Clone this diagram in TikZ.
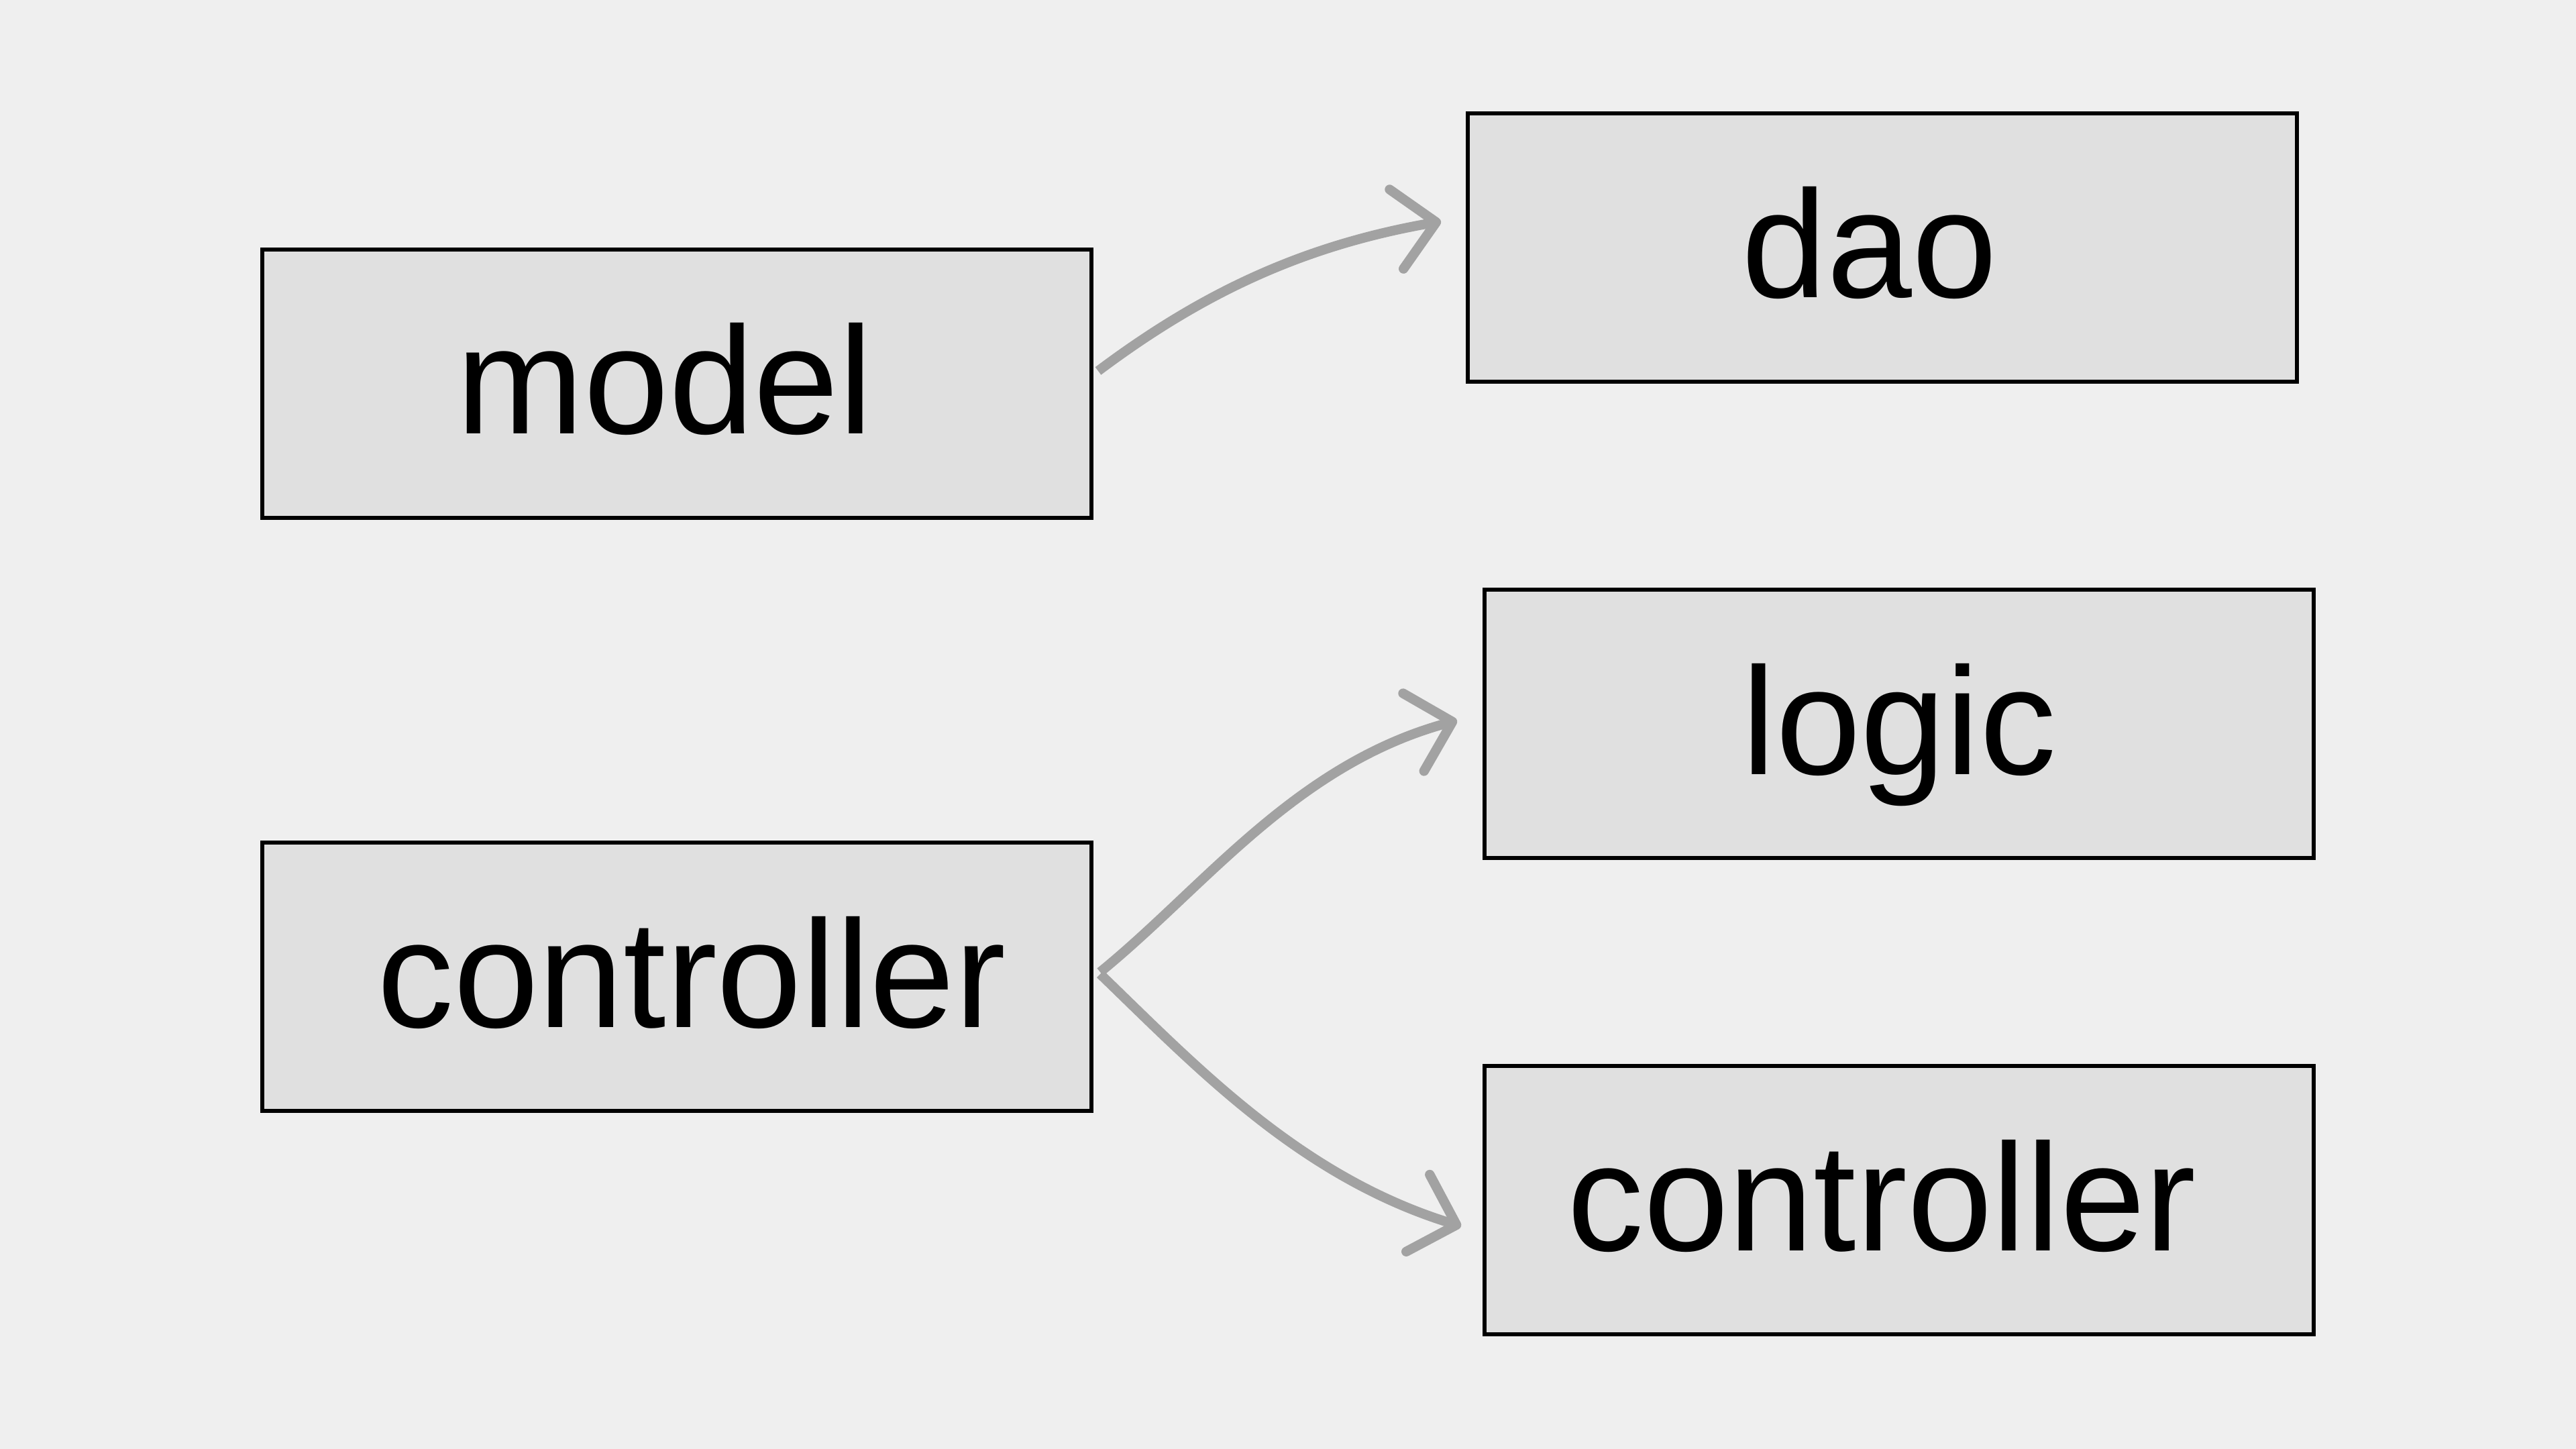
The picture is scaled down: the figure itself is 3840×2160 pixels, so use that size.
\documentclass[tikz,border=0pt]{standalone}
\usepackage{fontspec}
\setmainfont{Liberation Sans}
\usetikzlibrary{arrows.meta,calc}
\definecolor{bgc}{HTML}{EFEFEF}
\definecolor{boxc}{HTML}{E0E0E0}
\definecolor{arrc}{HTML}{A2A2A2}
\tikzset{
  box/.style={draw=black, line width=1.5pt, fill=boxc, rectangle,
    minimum width=309pt, minimum height=100pt, inner sep=0pt,
    text height=45pt, text depth=7.5pt,
    font=\fontsize{57pt}{68pt}\selectfont},
  conn/.style={draw=arrc, line width=3.6pt,
    -{Straight Barb[length=15pt,width=30pt,round]}}
}
\begin{document}
\begin{tikzpicture}[x=0.25pt,y=-0.25pt]
\fill[bgc] (0,0) rectangle (3840,2160);
\useasboundingbox (0,0) rectangle (3840,2160);
\node[box] (model) at (1009,572) {model\kern9pt};
\node[box] (dao) at (2806,369) {dao\kern9.5pt};
\node[box] (logic) at (2831,1079) {logic};
\node[box] (ctrlL) at (1009,1456) {\kern11pt controller};
\node[box] (ctrlR) at (2831,1789) {controller\kern13pt};
\draw[conn] ($(model.east)+(7,-19)$) .. controls +(160,-120) and +(-200,35) .. ($(dao.west)+(-37,-39)$);
\draw[conn] ($(ctrlL.east)+(10,-7)$) .. controls +(155,-126) and +(-241,65) .. ($(logic.west)+(-38,-5)$);
\draw[conn] ($(ctrlL.east)+(10,-4)$) .. controls +(144,139) and +(-239,-73) .. ($(ctrlR.west)+(-32,39)$);
\end{tikzpicture}
\end{document}
